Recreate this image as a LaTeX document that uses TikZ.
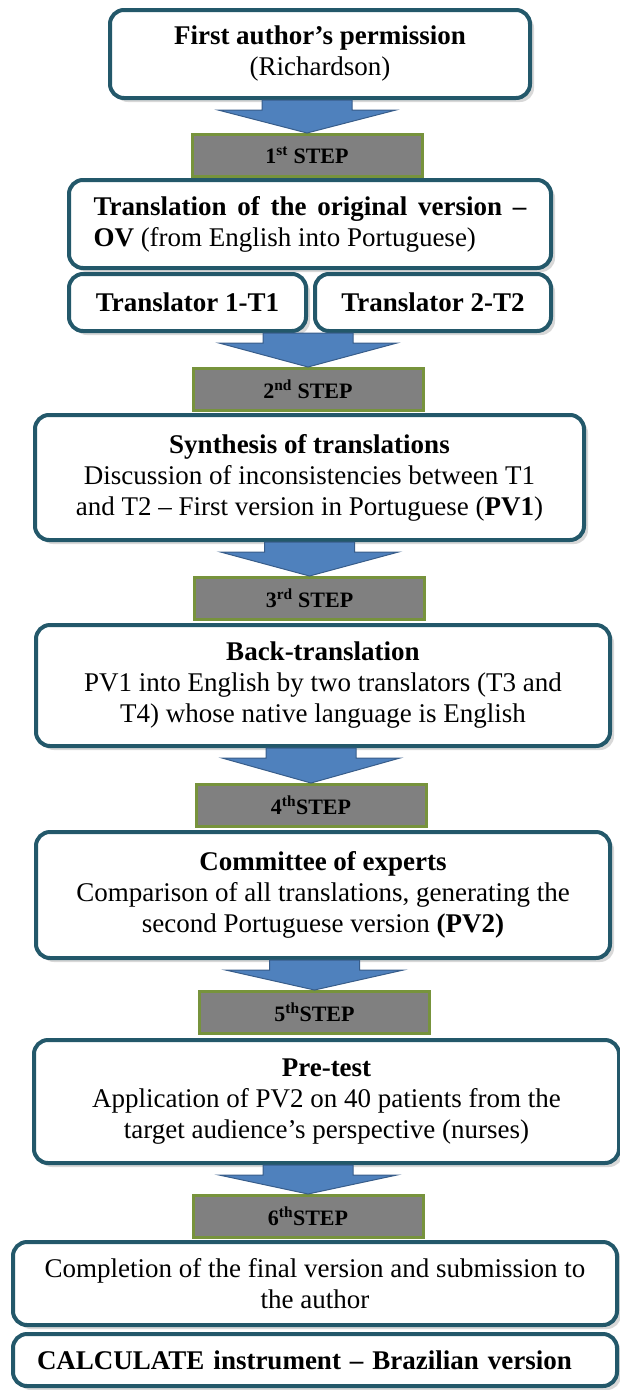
\documentclass[tikz,border=0pt]{standalone}
\usepackage{fontspec}
\setmainfont{Liberation Serif}
\usepackage{tikz}
\usetikzlibrary{calc, shadows}

\definecolor{boxline}{RGB}{35,88,106}
\definecolor{stepline}{RGB}{119,147,60}
\definecolor{stepfill}{RGB}{128,128,128}
\definecolor{arrowfill}{RGB}{79,129,189}
\definecolor{arrowline}{RGB}{56,93,138}

\begin{document}
\begin{tikzpicture}[
    x=1pt, y=-1pt,
    box/.style={rectangle, draw=boxline, line width=4pt, rounded corners=14pt, fill=white, align=center, inner sep=0pt, font=\fontsize{27}{31}\selectfont, drop shadow={shadow xshift=4pt, shadow yshift=-4pt, fill=black!30}},
    stepbox/.style={rectangle, draw=stepline, line width=3pt, fill=stepfill, inner sep=0pt, minimum width=230pt, minimum height=42pt, font=\fontsize{22}{26}\selectfont\bfseries},
    bluearrow/.style={fill=arrowfill, draw=arrowline, line width=1pt, line join=miter}
]
\useasboundingbox (0,0) rectangle (620,1390);

% Main boxes
\node[box, minimum width=420pt, minimum height=88pt] (permission) at (320,54) {\textbf{First author’s permission}\\(Richardson)};
\node[box, minimum width=482pt, minimum height=88pt, text width=433pt, align=justify] (translation) at (310,224) {\textbf{Translation of the original version –}\linebreak\textbf{OV} (from English into Portuguese)};
\node[box, minimum width=237pt, minimum height=57pt] (tone) at (187.5,302.5) {\textbf{Translator 1-T1}};
\node[box, minimum width=236pt, minimum height=57pt] (ttwo) at (433,302.5) {\textbf{Translator 2-T2}};
\node[box, minimum width=549pt, minimum height=125pt] (synthesis) at (309.5,477.5) {\textbf{Synthesis of translations}\\Discussion of inconsistencies between T1\\and T2 – First version in Portuguese (\textbf{PV1})};
\node[box, minimum width=574pt, minimum height=121pt] (back) at (323,685.5) {\textbf{Back-translation}\\PV1 into English by two translators (T3 and\\T4) whose native language is English};
\node[box, minimum width=574pt, minimum height=126pt] (committee) at (323,895) {\textbf{Committee of experts}\\Comparison of all translations, generating the\\second Portuguese version \textbf{(PV2)}};
\node[box, minimum width=585pt, minimum height=123pt] (pretest) at (326.5,1101.5) {\textbf{Pre-test}\\Application of PV2 on 40 patients from the\\target audience’s perspective (nurses)};
\node[box, minimum width=604pt, minimum height=83pt] (completion) at (315,1283.5) {Completion of the final version and submission to\\the author};
\node[box, minimum width=604pt, minimum height=52pt, text width=556pt, align=left] (final) at (315,1360) {\textbf{CALCULATE instrument – Brazilian version}};

% Steps
\node[stepbox] (stepone) at (307,155.5) {1\textsuperscript{st} STEP};
\node[stepbox] (steptwo) at (308,389.5) {2\textsuperscript{nd} STEP};
\node[stepbox] (stepthree) at (309.5,598.5) {3\textsuperscript{rd} STEP};
\node[stepbox] (stepfour) at (311,805.5) {4\textsuperscript{th}STEP};
\node[stepbox] (stepfive) at (314.5,1012.5) {5\textsuperscript{th}STEP};
\node[stepbox] (stepsix) at (308,1216.5) {6\textsuperscript{th}STEP};

% Block arrows
\foreach \from/\to in {permission/stepone, tone/steptwo, synthesis/stepthree, back/stepfour, committee/stepfive, pretest/stepsix}
  \draw[bluearrow] let \p1=(\to.north), \p2=(\from.south) in
    (\x1-45,\y2) -- (\x1+45,\y2) -- (\x1+45,\y2-10) -- (\x1+89,\y2-10) -- (\x1,\y1)
    -- (\x1-89,\y2-10) -- (\x1-45,\y2-10) -- cycle;

\end{tikzpicture}
\end{document}
